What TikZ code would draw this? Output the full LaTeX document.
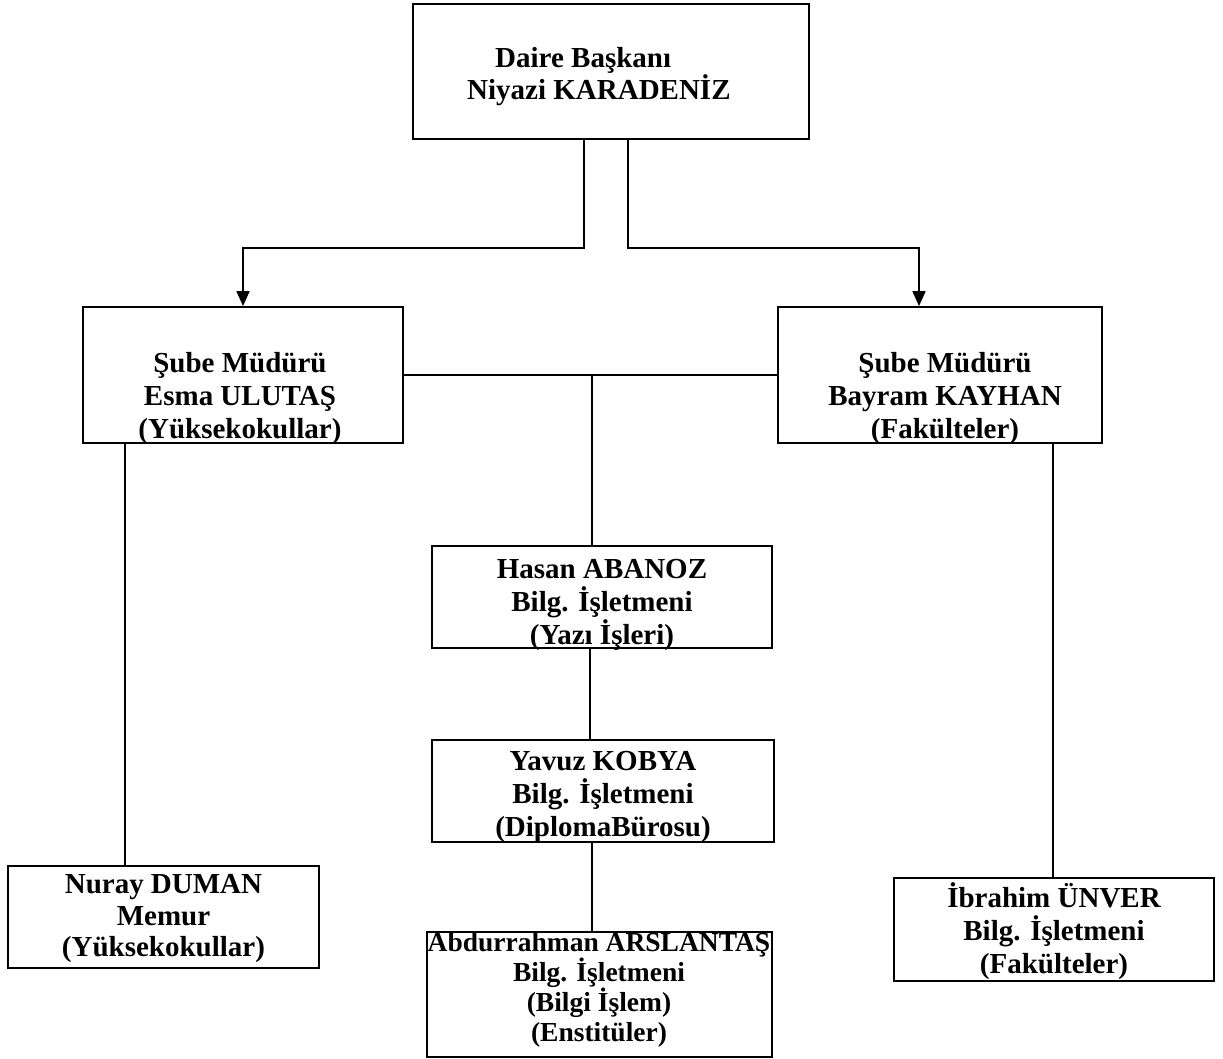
\documentclass[tikz,border=0pt]{standalone}
\usepackage{fontspec}
\setmainfont{Liberation Serif}
\usetikzlibrary{arrows.meta,calc}
\begin{document}
\begin{tikzpicture}[x=1pt,y=-1pt,
  box/.style={draw=black, line width=1.8pt, inner sep=0pt, fill=white},
  conn/.style={draw=black, line width=1.8pt},
  arr/.style={conn, -{Triangle[length=15pt,width=13pt]}},
  txt/.style={align=center, inner sep=0pt, font=\fontsize{29}{33}\selectfont\bfseries},
  txtsm/.style={align=center, inner sep=0pt, font=\fontsize{27.5}{30}\selectfont\bfseries}]
\useasboundingbox[fill=white] (0,0) rectangle (1223,1059);
% boxes
\node[box, minimum width=396pt, minimum height=135pt] (top) at (611,71.5) {};
\node[box, minimum width=320pt, minimum height=136pt] (L) at (243,375) {};
\node[box, minimum width=324pt, minimum height=136pt] (R) at (940,375) {};
\node[box, minimum width=340pt, minimum height=102pt] (H) at (602,597) {};
\node[box, minimum width=342pt, minimum height=102pt] (Y) at (603,791) {};
\node[box, minimum width=345pt, minimum height=125pt] (A) at (599.5,994.5) {};
\node[box, minimum width=311pt, minimum height=102pt] (N) at (163.5,917) {};
\node[box, minimum width=320pt, minimum height=103pt] (I) at (1054,929.5) {};
% texts
\node[txt, align=left, anchor=west, font=\fontsize{29}{32}\selectfont\bfseries] (ttop) at (467,77) {\hspace*{28pt}Daire Başkanı\\Niyazi KARADENİZ};
\node[txt] (tL) at (240,399) {Şube Müdürü\\Esma ULUTAŞ\\(Yüksekokullar)};
\node[txt] (tR) at (945,399) {Şube Müdürü\\Bayram KAYHAN\\(Fakülteler)};
\node[txt] (tH) at (602,605) {Hasan ABANOZ\\Bilg. İşletmeni\\(Yazı İşleri)};
\node[txt] (tY) at (603,797) {Yavuz KOBYA\\Bilg. İşletmeni\\(DiplomaBürosu)};
\node[txtsm] (tA) at (599,990) {Abdurrahman ARSLANTAŞ\\Bilg. İşletmeni\\(Bilgi İşlem)\\(Enstitüler)};
\node[txt, font=\fontsize{29}{31.5}\selectfont\bfseries] (tN) at (163.5,919) {Nuray DUMAN\\Memur\\(Yüksekokullar)};
\node[txt] (tI) at (1054,931) {İbrahim ÜNVER\\Bilg. İşletmeni\\(Fakülteler)};
% connectors
\draw[arr] ($(top.south)+(-27,0)$) -- ++(0,108) -| (L.north);
\draw[arr] ($(top.south)+(17,0)$) -- ++(0,108) -| ($(R.north)+(-21,0)$);
\draw[conn] (L.east) -- (R.west);
\coordinate (mid) at (592,375);
\draw[conn] (mid) -- (mid |- H.north);
\draw[conn] ($(H.south)+(-12,0)$) -- ($(Y.north)+(-13,0)$);
\draw[conn] ($(Y.south)+(-11,0)$) -- ($(A.north)+(-7.5,0)$);
\draw[conn] ($(L.south)+(-118,0)$) -- ($(N.north)+(-38.5,0)$);
\draw[conn] ($(R.south)+(113,0)$) -- ($(I.north)+(-1,0)$);
\end{tikzpicture}
\end{document}
